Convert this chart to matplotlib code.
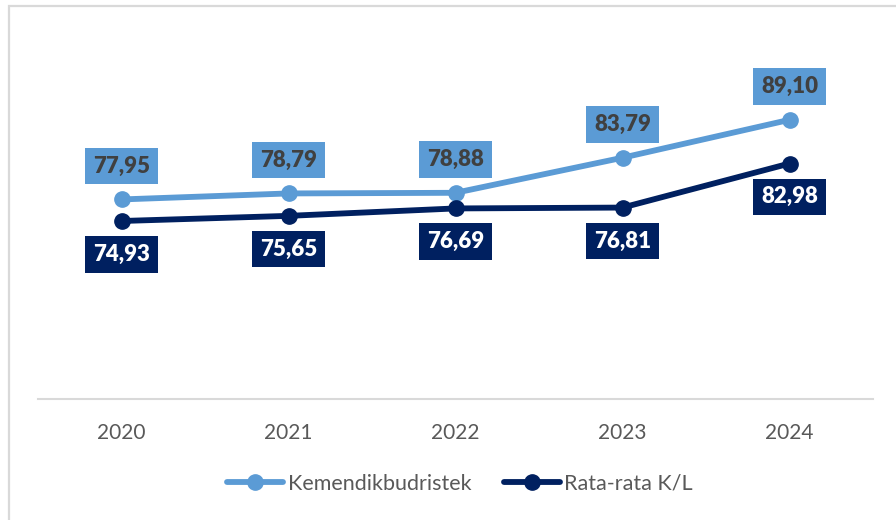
"""Line chart: Kemendikbudristek vs Rata-rata K/L"""

import matplotlib
matplotlib.use("Agg")
import matplotlib.pyplot as plt
from matplotlib.patches import Rectangle

years = ["2020", "2021", "2022", "2023", "2024"]
kemendikbud = [77.95, 78.79, 78.88, 83.79, 89.10]
rata_rata = [74.93, 75.65, 76.69, 76.81, 82.98]

LIGHT = "#5B9BD5"
DARK = "#002060"
GRID = "#D9D9D9"
TEXT = "#595959"


def fmt(v):
    return f"{v:.2f}".replace(".", ",")


def create_chart():
    plt.rcParams["font.family"] = ["Lato", "DejaVu Sans"]
    fig = plt.figure(figsize=(8.96, 5.2), dpi=100)
    fig.patch.set_facecolor("white")

    # frame of the chart area (only left and top visible in the crop)
    fig.patches.append(Rectangle((9 / 896, -0.1), 1.2, 0.1 + 514 / 520,
                                 transform=fig.transFigure, fill=False,
                                 edgecolor=GRID, linewidth=1.6, clip_on=False))

    ax = fig.add_axes([38 / 896, 121 / 520, 835 / 896, 357 / 520])
    x = list(range(len(years)))

    ax.plot(x, kemendikbud, color=LIGHT, linewidth=4.2, marker="o",
            markersize=11, solid_capstyle="round", label="Kemendikbudristek", zorder=3)
    ax.plot(x, rata_rata, color=DARK, linewidth=4.2, marker="o",
            markersize=11, solid_capstyle="round", label="Rata-rata K/L", zorder=3)

    # data labels
    for xi, v in zip(x, kemendikbud):
        ax.annotate(fmt(v), (xi, v), xytext=(0, 24), textcoords="offset points",
                    ha="center", va="center", fontsize=16, fontweight="heavy",
                    color="#404040",
                    bbox=dict(boxstyle="square,pad=0.35", fc=LIGHT, ec="none"))
    for xi, v in zip(x, rata_rata):
        ax.annotate(fmt(v), (xi, v), xytext=(0, -24), textcoords="offset points",
                    ha="center", va="center", fontsize=16, fontweight="heavy",
                    color="white",
                    bbox=dict(boxstyle="square,pad=0.35", fc=DARK, ec="none"))

    ax.set_xlim(-0.5, len(years) - 0.5)
    ax.set_ylim(50, 100)
    ax.set_xticks(x)
    ax.set_xticklabels(years)
    ax.set_yticks([])
    ax.tick_params(axis="x", length=0, pad=17, labelsize=15, labelcolor=TEXT)
    for s in ["top", "left", "right"]:
        ax.spines[s].set_visible(False)
    ax.spines["bottom"].set_color(GRID)
    ax.spines["bottom"].set_linewidth(1.5)
    ax.set_facecolor("none")

    fig.legend(loc="center", bbox_to_anchor=(460 / 896, 1 - 484 / 520), ncol=2,
               frameon=False, fontsize=15.5, labelcolor=TEXT, handlelength=2.6,
               handletextpad=0.2, columnspacing=1.5)

    fig.savefig("out.png", dpi=100, facecolor="white")


if __name__ == "__main__":
    create_chart()
